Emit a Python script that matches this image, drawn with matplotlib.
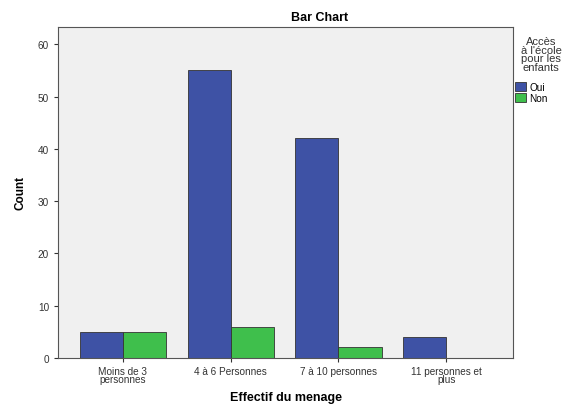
import numpy as np
import matplotlib.pyplot as plt
from matplotlib.patches import Patch

plt.rcParams["font.family"] = ["Liberation Sans", "DejaVu Sans"]

categories = ["Moins de 3\npersonnes", "4 à 6 Personnes", "7 à 10 personnes", "11 personnes et\nplus"]
oui_counts = [5, 55, 42, 4]
non_counts = [5, 6, 2, 0]

blue = "#3e52a5"
green = "#3fbf4c"

fig = plt.figure(figsize=(5.65, 4.06), dpi=100)
ax = fig.add_axes([0.103, 0.116, 0.805, 0.815])
ax.set_facecolor("#f0f0f0")

x = np.arange(len(categories))
w = 0.4
ax.bar(x - w / 2, oui_counts, width=w, color=blue, edgecolor="#333333", linewidth=0.6)
ax.bar(x + w / 2, non_counts, width=w, color=green, edgecolor="#333333", linewidth=0.6)

ax.set_xlim(-0.6, 3.62)
ax.set_ylim(0, 63.3)
ax.set_yticks(range(0, 61, 10))
ax.set_xticks(x)
ax.set_xticklabels(categories, fontsize=7.2, color="#333333", linespacing=0.85)
ax.tick_params(axis="y", labelsize=7.2, colors="#333333", length=3)
ax.tick_params(axis="x", length=3, colors="#333333", pad=2.5)

for s in ax.spines.values():
    s.set_color("#555555")
    s.set_linewidth(0.8)

ax.set_xlabel("Effectif du menage", fontsize=9, fontweight="bold", labelpad=5)
ax.set_ylabel("Count", fontsize=8.5, fontweight="bold", labelpad=8)

fig.text(320 / 565, 1 - 18 / 406, "Bar Chart", ha="center", va="center",
         fontsize=9, fontweight="bold")

fig.text(541 / 565, 1 - 55 / 406, "Accès\nà l'école\npour les\nenfants", ha="center",
         va="center", fontsize=8, color="#333333", linespacing=0.85)

handles = [Patch(facecolor=blue, edgecolor="#333333", linewidth=0.6, label="Oui"),
           Patch(facecolor=green, edgecolor="#333333", linewidth=0.6, label="Non")]
fig.legend(handles=handles, loc="upper left", bbox_to_anchor=(513 / 565, 1 - 81 / 406),
           frameon=False, fontsize=7.2, handlelength=1.1, handleheight=0.9,
           handletextpad=0.3, labelspacing=0.1, borderaxespad=0, borderpad=0.2)

fig.savefig("out.png", dpi=100)
